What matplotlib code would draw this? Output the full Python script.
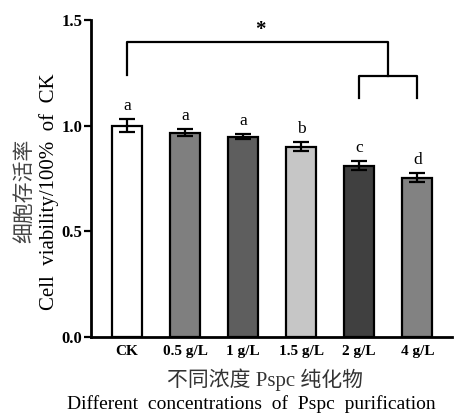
import matplotlib
matplotlib.use('Agg')
import matplotlib.pyplot as plt

plt.rcParams['font.family'] = ['Liberation Serif', 'Noto Sans CJK SC']

groups = ['CK', '0.5 g/L', '1 g/L', '1.5 g/L', '2 g/L', '4 g/L']
viability = [1.0, 0.967, 0.948, 0.90, 0.81, 0.754]
err = [0.03, 0.015, 0.01, 0.022, 0.02, 0.02]
letters = ['a', 'a', 'a', 'b', 'c', 'd']
colors = ['#ffffff', '#7f7f7f', '#5e5e5e', '#c6c6c6', '#404040', '#828282']

fig = plt.figure(figsize=(4.59, 4.13), dpi=100)
ax = fig.add_axes([0.198, 0.184, 0.787, 0.768])

x = range(len(groups))
ax.bar(x, viability, width=0.52, color=colors, edgecolor='black', linewidth=1.6, zorder=2)
ax.errorbar(x, viability, yerr=err, fmt='none', ecolor='black', elinewidth=1.6,
            capsize=6, capthick=1.6, zorder=3)
for i in x:
    ax.text(i, viability[i] + err[i] + 0.025, letters[i], ha='center', va='bottom',
            fontsize=12.5)

# significance bracket
lw = 1.6
ax.plot([0, 0, 4.5, 4.5], [1.237, 1.393, 1.393, 1.232], color='black', lw=lw, clip_on=False)
ax.plot([4, 4, 5, 5], [1.128, 1.232, 1.232, 1.128], color='black', lw=lw, clip_on=False)
ax.text(2.3, 1.405, '*', ha='center', va='bottom', fontsize=15, fontweight='bold')

ax.set_xlim(-0.62, 5.6)
ax.set_ylim(0, 1.5)
ax.set_yticks([0.0, 0.5, 1.0, 1.5])
ax.set_yticklabels(['0.0', '0.5', '1.0', '1.5'], fontweight='bold', fontsize=12)
ax.set_xticks(list(x))
ax.set_xticklabels(groups, fontweight='bold', fontsize=11)
ax.tick_params(axis='x', direction='in', length=5, width=1.6, pad=6)
ax.tick_params(axis='y', direction='out', length=5, width=1.6, pad=1)
for s in ['top', 'right']:
    ax.spines[s].set_visible(False)
for s in ['left', 'bottom']:
    ax.spines[s].set_linewidth(2)

fig.text(0.055, 0.537, '细胞存活率', rotation=90, ha='center', va='center', fontsize=15,
         color='#444444')
fig.text(0.107, 0.535, 'Cell  viability/100%  of  CK', rotation=90, ha='center',
         va='center', fontsize=15)
fig.text(0.577, 0.08, '不同浓度 Pspc 纯化物', ha='center', va='center', fontsize=15,
         color='#333333')
fig.text(0.146, 0.022, 'Different  concentrations  of  Pspc  purification', ha='left',
         va='center', fontsize=14)

fig.savefig('out.png', dpi=100)
